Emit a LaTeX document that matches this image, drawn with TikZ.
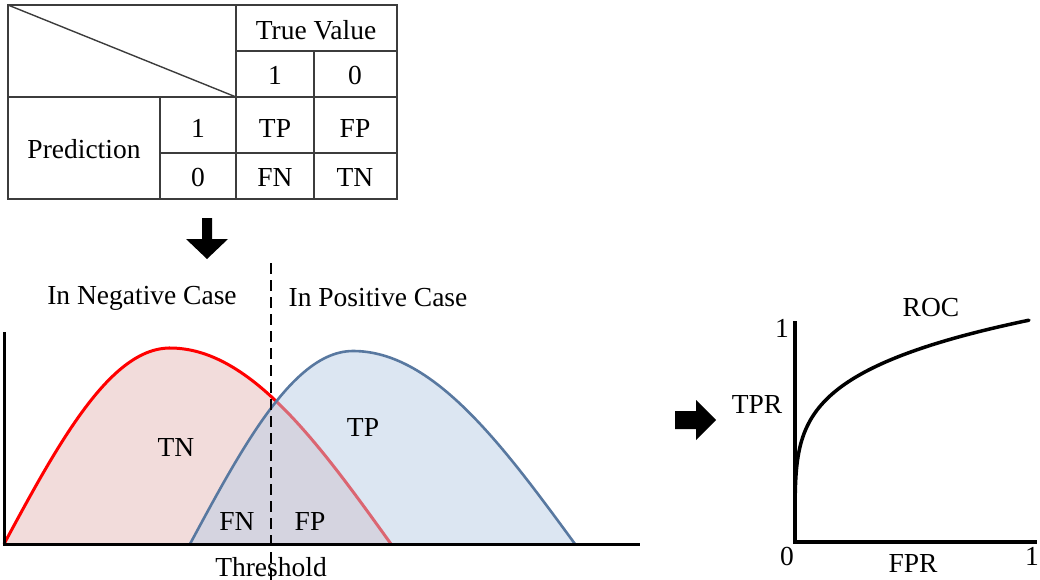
\documentclass[tikz,border=0pt]{standalone}
\usepackage{fontspec}
\setmainfont{Liberation Serif}
\definecolor{redfill}{RGB}{242,220,219}
\definecolor{bluefill}{RGB}{185,205,229}
\definecolor{bluestroke}{RGB}{88,120,160}
\definecolor{tablegrey}{RGB}{60,60,60}
\begin{document}
\begin{tikzpicture}[x=1pt,y=-1pt,
  lbl/.style={font=\fontsize{27.5}{32}\selectfont, inner sep=0pt},
  tline/.style={draw=tablegrey, line width=1.4pt},
  axis/.style={line width=3pt, black},
  rocaxis/.style={line width=3.5pt, black}]
\useasboundingbox (0,0) rectangle (1040,580);
% ---------- table ----------
\draw[tline] (8,5) rectangle (397,199);
\draw[tline] (8,97) -- (397,97);
\draw[tline] (236,51) -- (397,51);
\draw[tline] (160,153) -- (397,153);
\draw[tline] (160,97) -- (160,199);
\draw[tline] (236,5) -- (236,199);
\draw[tline] (314,51) -- (314,199);
\draw[tline] (8,5) -- (236,97);
\node[lbl] (tv) at (316,30) {True Value};
\node[lbl] (tv1) at (275,75) {1};
\node[lbl] (tv0) at (355,75) {0};
\node[lbl] (pred) at (84,149) {Prediction};
\node[lbl] (p1) at (198,128) {1};
\node[lbl] (p0) at (198,177) {0};
\node[lbl] (tp) at (275,128) {TP};
\node[lbl] (fp) at (355,128) {FP};
\node[lbl] (fn) at (275,177) {FN};
\node[lbl] (tn) at (355,177) {TN};
% ---------- down arrow ----------
\fill (202,218) -- (212,218) -- (212,239) -- (228,239) -- (207,259) -- (186,239) -- (202,239) -- cycle;
% ---------- distributions ----------
\node[lbl] (neg) at (142,298) {In Negative Case};
\node[lbl] (pos) at (378,298) {In Positive Case};
\fill[redfill] plot[domain=4:170,samples=50] (\x,{544-196*sin((\x-4)/166*90)})
  -- plot[domain=170:391,samples=60] (\x,{544-196*cos((\x-170)/221*90)}) -- cycle;
\draw[red, line width=3pt] plot[domain=4:170,samples=50] (\x,{544-196*sin((\x-4)/166*90)})
  -- plot[domain=170:391,samples=60] (\x,{544-196*cos((\x-170)/221*90)});
\fill[bluefill, opacity=0.5] plot[domain=190:353,samples=50] (\x,{544-193*sin((\x-190)/163*90)})
  -- plot[domain=353:575,samples=60] (\x,{544-193*cos((\x-353)/222*90)}) -- cycle;
\draw[bluestroke, line width=2.6pt] plot[domain=190:353,samples=50] (\x,{544-193*sin((\x-190)/163*90)})
  -- plot[domain=353:575,samples=60] (\x,{544-193*cos((\x-353)/222*90)});
\coordinate (org) at (4,544);
\coordinate (ytop) at (4,332);
\coordinate (xend) at (640,544);
\draw[axis] (ytop) -- (org) -- (xend);
\coordinate (thtop) at (271,263);
\coordinate (thbot) at (271,580);
\draw[line width=2.2pt, dash pattern=on 11pt off 6pt] (thtop) -- (thbot);
\node[lbl] (dtn) at (176,447) {TN};
\node[lbl] (dtp) at (363,427) {TP};
\node[lbl] (dfn) at (237,521) {FN};
\node[lbl] (dfp) at (310,521) {FP};
\node[lbl] (thr) at (271,567) {Threshold};
% ---------- right arrow ----------
\fill (675,411) -- (696,411) -- (696,400) -- (716,420) -- (696,440) -- (696,429) -- (675,429) -- cycle;
% ---------- ROC ----------
\coordinate (ro) at (795,542);
\coordinate (rytop) at (795,321);
\coordinate (rxend) at (1037,542);
\draw[rocaxis] (rytop) -- (ro) -- (rxend);
\draw[line width=3.5pt, line cap=round] (ro) -- plot[domain=0.002:1,samples=120] ({795+235*\x^4},{542-222*\x^0.88});
\node[lbl] (roc) at (931,308) {ROC};
\node[lbl] (r1y) at (782,328) {1};
\node[lbl] (tpr) at (757,404) {TPR};
\node[lbl] (r0) at (787,556) {0};
\node[lbl] (fpr) at (913,563) {FPR};
\node[lbl] (r1x) at (1032,556) {1};
\end{tikzpicture}
\end{document}
